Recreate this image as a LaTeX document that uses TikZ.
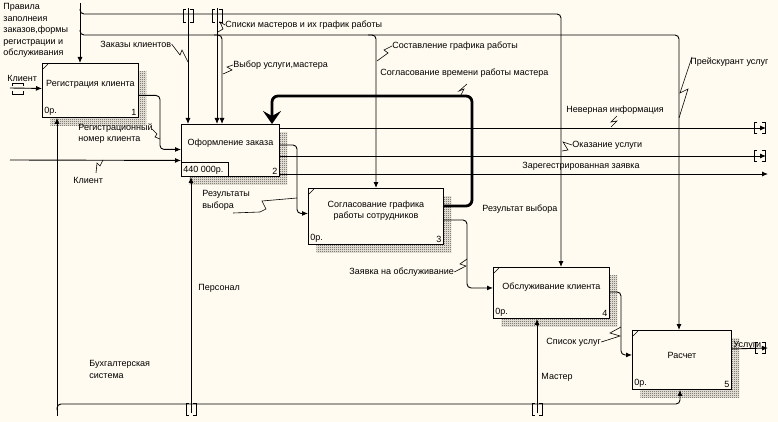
\documentclass[tikz,border=0pt]{standalone}
\usepackage{fontspec}
\setmainfont{Liberation Sans}
\usetikzlibrary{arrows.meta,patterns.meta,shadows}
\definecolor{bgcream}{RGB}{255,251,240}
\tikzdeclarepattern{
  name=dither,
  type=uncolored,
  bounding box={(0pt,0pt) and (2pt,2pt)},
  tile size={(2pt,2pt)},
  code={
    \fill (0pt,0pt) rectangle (1pt,1pt);
    \fill (1pt,1pt) rectangle (2pt,2pt);
  }
}

\begin{document}
\begin{tikzpicture}[x=1pt,y=-1pt,
    font=\fontsize{9}{11.5}\selectfont,
    line width=0.9pt,
    >={Latex[length=6pt,width=5pt]},
    actbox/.style={draw,fill=bgcream,anchor=north west,inner sep=0pt,
      general shadow={shadow xshift=8pt,shadow yshift=-8pt,pattern=dither}},
    lbl/.style={inner sep=0pt,align=left},
    squig/.style={line width=0.6pt}]

        % background
        \fill[bgcream] (0,0) rectangle (778,422);
        \useasboundingbox (0,0) rectangle (778,422);

        % activity boxes
        \node[actbox,minimum width=96pt,minimum height=54pt] (reg) at (42,63) {};
        \node[actbox,minimum width=98pt,minimum height=52pt] (zak) at (181,124) {};
        \node[actbox,minimum width=135pt,minimum height=56pt] (sogl) at (308,188) {};
        \node[actbox,minimum width=116pt,minimum height=51pt] (obs) at (493,267) {};
        \node[actbox,minimum width=99pt,minimum height=59pt] (ras) at (632,330) {};

        \node at ([yshift=6pt]reg.center) {Регистрация клиента};
        \node at ([yshift=7pt]zak.center) {Оформление заказа};
        \node[align=center] at ([yshift=6pt]sogl.center) {Согласование графика\\работы сотрудников};
        \node at ([yshift=6pt]obs.center) {Обслуживание клиента};
        \node at ([yshift=5pt]ras.center) {Расчет};

        \node[anchor=south west,inner sep=2pt] at (reg.south west) {0р.};
        \node[anchor=south east,inner sep=2pt] at (reg.south east) {1};
        \draw (zak.south west) rectangle ++(47,-14);
        \node[anchor=south west,inner sep=2pt] at (zak.south west) {440 000р.};
        \node[anchor=south east,inner sep=2pt] at (zak.south east) {2};
        \node[anchor=south west,inner sep=2pt] at (sogl.south west) {0р.};
        \node[anchor=south east,inner sep=2pt] at (sogl.south east) {3};
        \node[anchor=south west,inner sep=2pt] at (obs.south west) {0р.};
        \node[anchor=south east,inner sep=2pt] at (obs.south east) {4};
        \node[anchor=south west,inner sep=2pt] at (ras.south west) {0р.};
        \node[anchor=south east,inner sep=2pt] at (ras.south east) {5};

        \draw[line width=0.6pt] ([shift={(1,6)}]reg.north west) -- ++(5,-5);
        \draw[line width=0.6pt] ([shift={(1,6)}]sogl.north west) -- ++(5,-5);
        \draw[line width=0.6pt] ([shift={(1,6)}]obs.north west) -- ++(5,-5);
        \draw[line width=0.6pt] ([shift={(1,6)}]ras.north west) -- ++(5,-5);

        % attach points
        \coordinate (regC) at ([xshift=38pt]reg.north west);
        \coordinate (zakC1) at ([xshift=7pt]zak.north west);
        \coordinate (zakC2) at ([xshift=36pt]zak.north west);
        \coordinate (zakC3) at ([xshift=41pt]zak.north west);
        \coordinate (zakC4) at ([xshift=91pt]zak.north west);
        \coordinate (soglC) at ([xshift=68pt]sogl.north west);
        \coordinate (obsC) at ([xshift=68pt]obs.north west);
        \coordinate (rasC) at ([xshift=47pt]ras.north west);
        \coordinate (regM) at ([xshift=15pt]reg.south west);
        \coordinate (zakM) at ([xshift=10pt]zak.south west);
        \coordinate (obsM) at ([xshift=44pt]obs.south west);
        \coordinate (rasM) at ([xshift=48pt]ras.south west);

        % controls
        \draw[->] (80,3) -- (regC);
        \draw[->,rounded corners=4pt] (80,9) |- (561,14) -- (obsC);
        \draw[->,rounded corners=4pt] (80,30) |- (679,35) -- (rasC);
        \draw[->] (188,8) -- (zakC1);
        \draw[->] (217,8) -- (zakC2);
        \draw[->,rounded corners=4pt] (214,35) -| (zakC3);
        \draw[->,rounded corners=4pt] (368,35) -| (soglC);
        \draw[line width=2.8pt,rounded corners=6pt,-{Stealth[length=13pt,width=18pt,inset=5pt]}]
          ([yshift=-18pt]sogl.north east) -| (472,96) -| (zakC4);

        % inputs and outputs
        \draw[->] (10,88) -- ([yshift=2pt]reg.west);
        \draw[->] (10,160) -- ([yshift=-10pt]zak.west);
        \draw[->,rounded corners=4pt] ([yshift=-5pt]reg.east) -| (160,120) |- ([yshift=1pt]zak.west);
        \draw[->] ([yshift=-4pt]zak.north east) -- (766,128);
        \draw[->,rounded corners=4pt] ([yshift=-21pt]zak.north east) -| (297,180) |- ([yshift=3pt]sogl.west);
        \draw[->] ([yshift=-32pt]zak.north east) -- (766,156);
        \draw[->] ([yshift=-50pt]zak.north east) -- (768,174);
        \draw[->,rounded corners=4pt] ([yshift=-32pt]sogl.north east) -| (467,250) |- ([yshift=5pt]obs.west);
        \draw[->,rounded corners=4pt] ([yshift=1pt]obs.east) -| (621,320) |- ([yshift=5pt]ras.west);
        \draw[->] ([yshift=11pt]ras.east) -- (768,348);

        % mechanisms
        \draw[->] (57,416) -- (regM);
        \draw[->,rounded corners=4pt] (57,410) |- (680,404) -- (rasM);
        \draw[->] (191,413) -- (zakM);
        \draw[->] (537,413) -- (obsM);

        % tunnels
        \draw[line width=0.8pt] (186,9) -- ++(-3,0) -- ++(0,13) -- ++(3,0);
        \draw[line width=0.8pt] (190,9) -- ++(3,0) -- ++(0,13) -- ++(-3,0);
        \draw[line width=0.8pt] (215,9) -- ++(-3,0) -- ++(0,13) -- ++(3,0);
        \draw[line width=0.8pt] (219,9) -- ++(3,0) -- ++(0,13) -- ++(-3,0);
        \draw[line width=0.8pt] (189,403) -- ++(-3,0) -- ++(0,12) -- ++(3,0);
        \draw[line width=0.8pt] (193,403) -- ++(3,0) -- ++(0,12) -- ++(-3,0);
        \draw[line width=0.8pt] (535,403) -- ++(-3,0) -- ++(0,12) -- ++(3,0);
        \draw[line width=0.8pt] (539,403) -- ++(3,0) -- ++(0,12) -- ++(-3,0);
        \draw[line width=0.8pt] (757,122) -- ++(-3,0) -- ++(0,11) -- ++(3,0);
        \draw[line width=0.8pt] (762,122) -- ++(3,0) -- ++(0,11) -- ++(-3,0);
        \draw[line width=0.8pt] (757,150) -- ++(-3,0) -- ++(0,11) -- ++(3,0);
        \draw[line width=0.8pt] (762,150) -- ++(3,0) -- ++(0,11) -- ++(-3,0);
        \draw[line width=0.8pt] (758,342) -- ++(-3,0) -- ++(0,11) -- ++(3,0);
        \draw[line width=0.8pt] (762,342) -- ++(3,0) -- ++(0,11) -- ++(-3,0);
        \draw[line width=0.8pt] (12,86) -- ++(0,-3) -- ++(11,0) -- ++(0,3);
        \draw[line width=0.8pt] (12,91) -- ++(0,3) -- ++(11,0) -- ++(0,-3);

        % labels
        \node[lbl,anchor=north west] (lRules) at (3,3) {Правила\\заполнеия\\заказов,формы\\регистрации и\\обслуживания};
        \node[lbl,anchor=west] (lZakazy) at (100,44) {Заказы клиентов};
        \node[lbl,anchor=west] (lSpiski) at (225,25) {Списки мастеров и их график работы};
        \node[lbl,anchor=west] (lVybor) at (233,65) {Выбор услуги,мастера};
        \node[lbl,anchor=west] (lSostav) at (392,46) {Составление графика работы};
        \node[lbl,anchor=west] (lVremya) at (380,73) {Согласование времени работы мастера};
        \node[lbl,anchor=west] (lKlient1) at (7,78) {Клиент};
        \node[lbl,anchor=north west] (lRegNom) at (78,123) {Регистрационный\\номер клиента};
        \node[lbl,anchor=west] (lKlient2) at (73,180) {Клиент};
        \node[lbl,anchor=north west] (lRezultaty) at (202,190) {Результаты\\выбора};
        \node[lbl,anchor=west] (lRezultat) at (482,209) {Результат выбора};
        \node[lbl,anchor=west] (lNevern) at (566,110) {Неверная информация};
        \node[lbl,anchor=west] (lOkaz) at (572,145) {Оказание услуги};
        \node[lbl,anchor=west] (lZareg) at (522,166) {Зарегестрированная заявка};
        \node[lbl,anchor=west] (lPreisk) at (690,62) {Прейскурант услуг};
        \node[lbl,anchor=west] (lZayavka) at (349,272) {Заявка на обслуживание};
        \node[lbl,anchor=west] (lSpisok) at (546,342) {Список услуг};
        \node[lbl,anchor=west] (lUslugi) at (733,345) {Услуги};
        \node[lbl,anchor=west] (lPersonal) at (198,288) {Персонал};
        \node[lbl,anchor=west] (lMaster) at (541,377) {Мастер};
        \node[lbl,anchor=north west] (lBuh) at (89,360) {Бухгалтерская\\система};

        % label leaders
        \draw[squig] (lZakazy.east) -- (180,55) -- (182,50) -- (188,62);
        \draw[squig] (lSpiski.west) -- (220,22) -- (223,29) -- (218,32);
        \draw[squig] (lVybor.west) -- (227,67) -- (232,70) -- (223,74);
        \draw[squig] (lSostav.west) -- (384,50) -- (388,53) -- (377,61);
        \draw[squig] (467,84) -- (459,91) -- (464,89) -- (461,95);
        \draw[squig] (152,129) -- (157,134) -- (155,137) -- (160,139);
        \draw[squig] (96,173) -- (97,163) -- (100,166) -- (103,160);
        \draw[squig] (233,213) -- (260,212) -- (266,209) -- (262,201) -- (297,198);
        \draw[squig] (617,116) -- (611,122) -- (617,121) -- (611,127);
        \draw[squig] (lOkaz.west) -- (563,142) -- (568,150) -- (562,151);
        \draw[squig] (692,57) -- (680,93) -- (688,89) -- (679,118);
        \draw[squig] (lZayavka.east) -- (466,266) -- (460,264) -- (467,259);
        \draw[squig] (lSpisok.east) -- (620,336) -- (610,333) -- (621,327);
    \end{tikzpicture}
\end{document}
